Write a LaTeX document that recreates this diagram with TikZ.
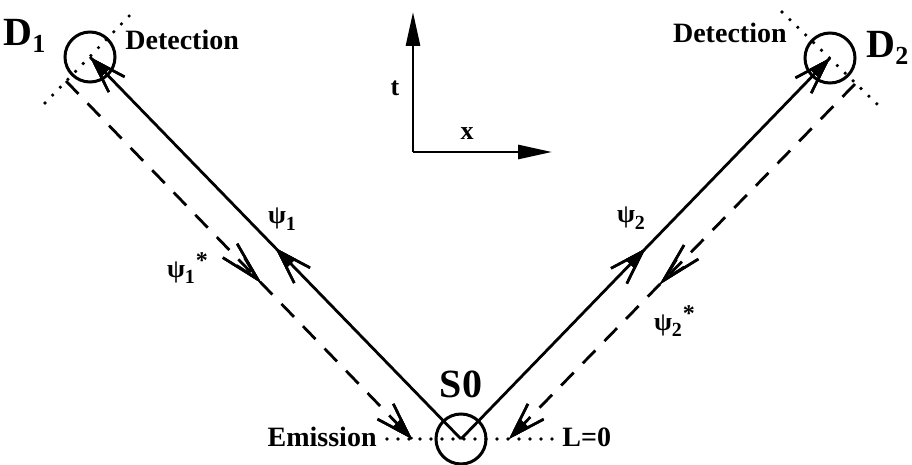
\documentclass[tikz,border=0pt]{standalone}
\usepackage{fontspec}
\setmainfont{Liberation Serif}
\usetikzlibrary{arrows.meta,decorations.markings}
\newcommand{\psil}[2]{$\mbox{ψ}_{\mbox{\fontsize{10}{10}\selectfont #1}}{}^{\mbox{\fontsize{12}{12}\selectfont #2}}$}
\newcommand{\dlab}[1]{$\mbox{D}_{\mbox{\fontsize{13}{13}\selectfont #1}}$}
\begin{document}
\begin{tikzpicture}[x=0.5pt,y=-0.5pt,
  ring/.style={circle,draw,line width=1.5pt,minimum size=25pt,inner sep=0pt},
  wave/.style={line width=1.4pt},
  adv/.style={line width=1.4pt,dash pattern=on 9pt off 6.5pt},
  dotln/.style={line width=1.8pt,line cap=round,dash pattern=on 0pt off 5.5pt},
  axis/.style={line width=1.4pt,-{Triangle[length=17pt,width=7pt]}},
  forktip/.style={decoration={markings,mark=at position #1 with {\arrow{Straight Barb[length=17pt,width=11pt,line width=1.3pt]}\arrow{Triangle[length=11pt,width=6.5pt]}}},postaction={decorate}},
  opentip/.style={decoration={markings,mark=at position #1 with {\arrow{Straight Barb[length=20pt,width=10pt,line width=1.3pt]}\arrow{Straight Barb[length=12pt,width=5.5pt,line width=1.3pt]}}},postaction={decorate,solid}},
  txt/.style={font=\fontsize{14}{14}\selectfont\bfseries,inner sep=0pt},
  big/.style={font=\fontsize{20}{20}\selectfont\bfseries,inner sep=0pt},
  psi/.style={font=\fontsize{13}{13}\selectfont\bfseries,inner sep=0pt}
]
\useasboundingbox (0,0) rectangle (912,465);
% dotted guide lines
\coordinate (d1a) at (45,103); \coordinate (d1b) at (134,11);
\coordinate (d2a) at (782,12); \coordinate (d2b) at (877,104);
\coordinate (ea) at (387,439); \coordinate (eb) at (552,439);
\draw[dotln] (d1a) -- (d1b);
\draw[dotln] (d2a) -- (d2b);
\draw[dotln] (ea) -- (eb);
% circles
\node[ring] (S0) at (461,439) {};
\node[ring] (D1) at (90,57) {};
\node[ring] (D2) at (830,58) {};
% retarded waves
\draw[wave,forktip=0.5,forktip=0.9999] (S0.center) -- (D1.center);
\draw[wave,forktip=0.5,forktip=0.9999] (S0.center) -- (D2.center);
% advanced waves
\coordinate (a1) at (66,81); \coordinate (b1) at (412,439);
\coordinate (a2) at (855,84); \coordinate (b2) at (509,439);
\draw[adv,opentip=0.565,forktip=0.9999] (a1) -- (b1);
\draw[adv,opentip=0.565,forktip=0.9999] (a2) -- (b2);
% axes
\coordinate (O) at (413,152); \coordinate (T) at (413,12); \coordinate (X) at (552,152);
\draw[axis] (O) -- (T);
\draw[axis] (O) -- (X);
\node[psi] (tl) at (395,88) {t};
\node[psi] (xl) at (467,134) {x};
% labels
\node[big,anchor=base west] (lD1) at (3,46) {\dlab{1}};
\node[big,anchor=base west] (lD2) at (866,58) {\dlab{2}};
\node[big,anchor=base] (lS0) at (461,398) {S0};
\node[txt,anchor=base west] (det1) at (125,50) {Detection};
\node[txt,anchor=base east] (det2) at (787,43) {Detection};
\node[txt,anchor=base east] (emi) at (377,446) {Emission};
\node[txt,anchor=base west] (l0) at (562,446) {L=0};
\node[psi] (p1) at (283,219) {\psil{1}{}};
\node[psi] (p1s) at (188,268) {\psil{1}{*}};
\node[psi] (p2) at (632,218) {\psil{2}{}};
\node[psi] (p2s) at (675,321) {\psil{2}{*}};
\end{tikzpicture}
\end{document}
